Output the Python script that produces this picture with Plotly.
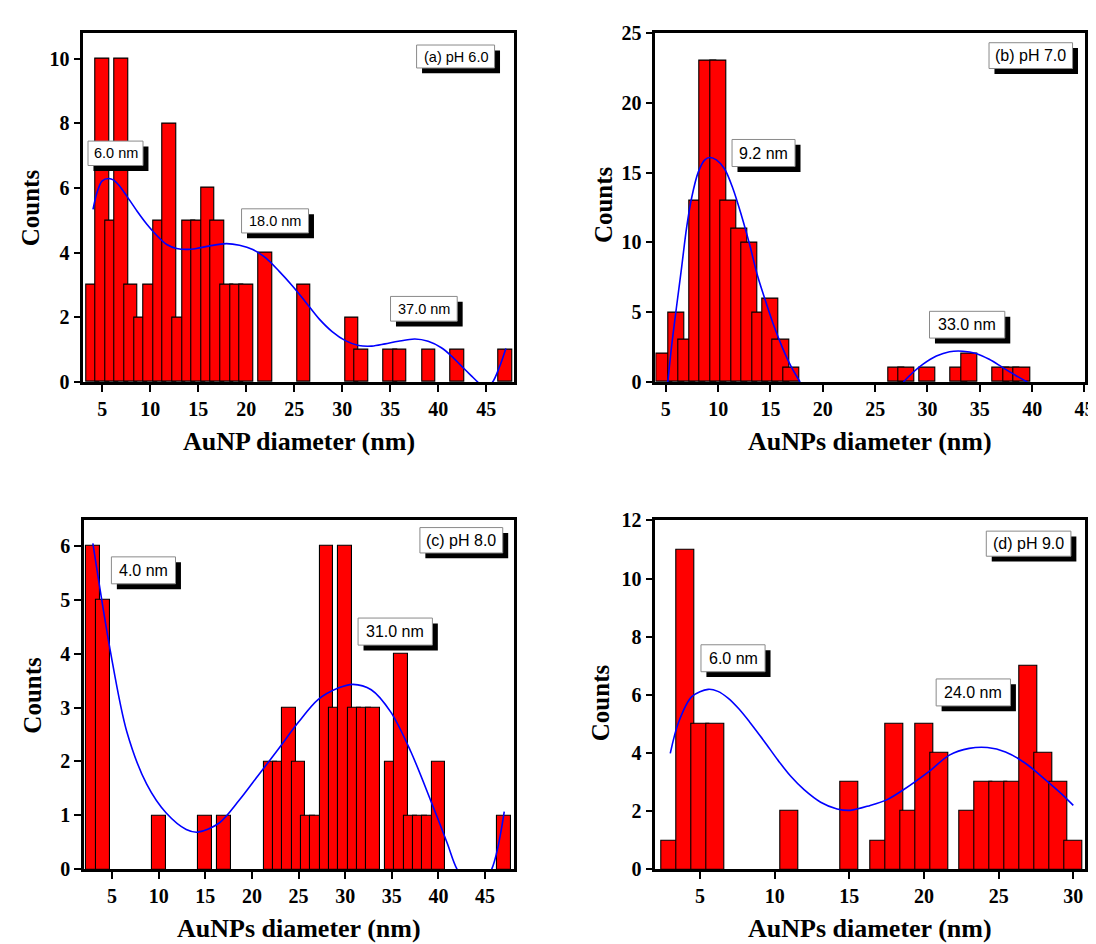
import plotly.graph_objects as go

W, H = 1096, 944

# ---------------- data ----------------
# (a) pH 6.0
a_x = [4, 5, 6, 7, 8, 9, 10, 11, 12, 13, 14, 15, 16, 17, 18, 19, 20, 22, 26, 31, 32, 35, 36, 39, 42, 47]
a_y = [3, 10, 5, 10, 3, 2, 3, 5, 8, 2, 5, 5, 6, 5, 3, 3, 3, 4, 3, 2, 1, 1, 1, 1, 1, 1]
a_fit_x = [4.04, 4.49, 5.0, 5.69, 6.2, 6.72, 7.58, 8.62, 9.65, 10.69, 11.72, 12.75, 13.79, 14.82,
           16.2, 17.92, 19.3, 20.68, 22.06, 23.44, 24.82, 26.2, 27.57, 28.95, 30.33, 31.71,
           33.09, 34.47, 35.85, 37.57, 38.95, 40.33, 41.36, 42.4, 43.43, 44.12, 44.9, 45.67,
           46.36, 47.05]
a_fit_y = [5.34, 5.89, 6.22, 6.29, 6.24, 6.09, 5.74, 5.29, 4.88, 4.53, 4.25, 4.13, 4.10, 4.13,
           4.21, 4.28, 4.23, 4.10, 3.83, 3.42, 2.97, 2.47, 1.96, 1.56, 1.28, 1.13,
           1.11, 1.18, 1.26, 1.33, 1.26, 1.06, 0.81, 0.50, 0.20, 0.0, -0.2, 0.0,
           0.45, 1.04]

# (b) pH 7.0
b_x = [4.85, 6, 7, 8, 9, 10, 11, 12, 13, 14, 15, 16, 17, 27, 28, 30, 33, 34, 37, 38, 39]
b_y = [2, 5, 3, 13, 23, 23, 13, 11, 10, 5, 6, 3, 1, 1, 1, 1, 1, 2, 1, 1, 1]
b_fit_x = [5.19, 5.57, 6.04, 6.52, 6.99, 7.46, 8.1, 8.73, 9.2, 9.83, 10.62, 11.41, 12.2, 12.99,
           13.78, 14.57, 15.36, 16.15, 16.94, 17.83, None,
           27.69, 28.63, 29.58, 30.85, 32.11, 33.37, 34.64, 35.9, 37.16, 38.43, 39.53]
b_fit_y = [0, 2.68, 5.48, 8.27, 11.07, 13.16, 15.03, 15.91, 16.08, 15.91, 15.26, 13.86, 12.0, 9.9,
           7.57, 5.71, 3.96, 2.45, 1.16, 0, None,
           0, 0.7, 1.28, 1.86, 2.17, 2.21, 2.05, 1.63, 1.05, 0.47, 0]

# (c) pH 8.0
c_x = [3, 4, 10, 15, 17, 22, 23, 24, 25, 26, 27, 28, 29, 30, 31, 32, 33, 35, 36, 37, 38, 39, 40, 47]
c_y = [6, 5, 1, 1, 1, 2, 2, 3, 2, 1, 1, 6, 3, 6, 3, 3, 3, 2, 4, 1, 1, 1, 2, 1]
c_fit_x = [2.95, 4.82, 6.59, 8.72, 10.84, 12.96, 14.2, 16.5, 18.63, 20.75, 22.88, 25.0, 27.12,
           29.25, 30.84, 32.79, 34.91, 37.04, 39.16, 40.93, 42.0, 43.9, 45.7, 47.05]
c_fit_y = [6.04, 4.05, 2.55, 1.58, 1.04, 0.74, 0.69, 0.86, 1.28, 1.76, 2.24, 2.73, 3.15,
           3.36, 3.43, 3.33, 2.91, 2.18, 1.28, 0.49, 0.0, -0.45, 0.0, 1.07]

# (d) pH 9.0
d_x = [3, 4, 5, 6, 11, 15, 17, 18, 19, 20, 21, 23, 24, 25, 26, 27, 28, 29, 30]
d_y = [1, 11, 5, 5, 2, 3, 1, 5, 2, 5, 4, 2, 3, 3, 3, 7, 4, 3, 1]
d_fit_x = [3.01, 3.56, 4.45, 5.55, 6.2, 6.9, 7.6, 8.32, 9.31, 10.2, 11.08, 11.97, 13.08, 14.18,
           15.07, 16.4, 17.5, 18.6, 20.37, 21.7, 23.03, 24.25, 25.46, 26.79, 28.12, 29.23, 30.0]
d_fit_y = [3.99, 5.05, 5.94, 6.19, 6.12, 5.88, 5.52, 5.07, 4.4, 3.77, 3.2, 2.74, 2.31, 2.08,
           2.03, 2.2, 2.39, 2.73, 3.38, 3.93, 4.16, 4.19, 4.04, 3.65, 3.09, 2.59, 2.2]

panel_labels = ["(a) pH 6.0", "(b) pH 7.0", "(c) pH 8.0", "(d) pH 9.0"]
x_titles = ["AuNP diameter (nm)", "AuNPs diameter (nm)", "AuNPs diameter (nm)", "AuNPs diameter (nm)"]
y_title = "Counts"

# ---------------- layout helpers ----------------
def px2x(px):
    return px / W

def px2y(py):
    return 1 - py / H

panels = [
    dict(xs=a_x, ys=a_y, fx=a_fit_x, fy=a_fit_y, width=1.4,
         dom_x=(76, 510.7), dom_y=(14, 371.7), xr=[3.03, 47.9], yr=[0, 10.8],
         xt=[5, 10, 15, 20, 25, 30, 35, 40, 45], yt=[0, 2, 4, 6, 8, 10]),
    dict(xs=b_x, ys=b_y, fx=b_fit_x, fy=b_fit_y, width=1.56,
         dom_x=(653.3, 1086.7), dom_y=(14, 371.7), xr=[4, 45.03], yr=[0, 25.02],
         xt=[5, 10, 15, 20, 25, 30, 35, 40, 45], yt=[0, 5, 10, 15, 20, 25]),
    dict(xs=c_x, ys=c_y, fx=c_fit_x, fy=c_fit_y, width=1.48,
         dom_x=(76.7, 510.7), dom_y=(512.7, 870.7), xr=[2, 48.1], yr=[0, 6.48],
         xt=[5, 10, 15, 20, 25, 30, 35, 40, 45], yt=[0, 1, 2, 3, 4, 5, 6]),
    dict(xs=d_x, ys=d_y, fx=d_fit_x, fy=d_fit_y, width=1.2,
         dom_x=(653.3, 1086.7), dom_y=(512.7, 870.7), xr=[2.01, 30.77], yr=[0, 12.02],
         xt=[5, 10, 15, 20, 25, 30], yt=[0, 2, 4, 6, 8, 10, 12]),
]

tick_font = dict(family="Liberation Serif", size=20, color="black", weight="bold")
title_font = dict(family="Liberation Serif", size=26, color="black", weight="bold")
box_font_family = "Liberation Sans"

fig = go.Figure()
layout = dict(width=W, height=H, margin=dict(l=0, r=0, t=0, b=0),
              paper_bgcolor="white", plot_bgcolor="white", showlegend=False,
              bargap=0)

for i, p in enumerate(panels):
    n = "" if i == 0 else str(i + 1)
    xa, ya = "x" + n, "y" + n
    fig.add_trace(go.Bar(x=p["xs"], y=p["ys"], width=p["width"], xaxis=xa, yaxis=ya,
                         marker=dict(color="#FF0000", line=dict(color="black", width=1.1))))
    fig.add_trace(go.Scatter(x=p["fx"], y=p["fy"], mode="lines", xaxis=xa, yaxis=ya,
                             line=dict(color="#0000FF", width=1.6, shape="spline", smoothing=0.9),
                             connectgaps=False))
    axis_common = dict(showgrid=False, zeroline=False, showline=True, linecolor="black",
                       linewidth=2.5, mirror=True, ticks="outside", ticklen=7, tickwidth=2,
                       tickcolor="black", tickfont=tick_font, ticklabeloverflow="allow")
    layout["xaxis" + n] = dict(axis_common, domain=[px2x(p["dom_x"][0]), px2x(p["dom_x"][1])],
                               range=p["xr"], tickvals=p["xt"], anchor=ya)
    layout["yaxis" + n] = dict(axis_common, domain=[px2y(p["dom_y"][1]), px2y(p["dom_y"][0])],
                               range=p["yr"], tickvals=p["yt"], anchor=xa)

fig.update_layout(**layout)

# ---------------- annotation boxes ----------------
# (cx, cy, w, h, text, fontsize) in pixels
boxes = [
    (451.7, 38.4, 78.7, 23.5, panel_labels[0], 14.5),
    (108.5, 137.5, 55.5, 25, "6.0 nm", 14.5),
    (269.5, 206.7, 67.6, 24.7, "18.0 nm", 14.5),
    (419.7, 296.7, 67.3, 25.3, "37.0 nm", 14.5),
    (1032.2, 37.5, 84.3, 26.4, panel_labels[1], 16),
    (762.5, 137.2, 63.6, 27.7, "9.2 nm", 16),
    (968, 313, 76, 27.4, "33.0 nm", 16),
    (457.5, 533.7, 83.6, 26, panel_labels[2], 16),
    (136.7, 564.5, 64.7, 27.6, "4.0 nm", 16),
    (390.8, 627.2, 75, 27.7, "31.0 nm", 16),
    (1030, 537.2, 85.4, 25.7, panel_labels[3], 16),
    (731.7, 654.5, 64.7, 27.6, "6.0 nm", 16),
    (974.2, 689.5, 75, 27.6, "24.0 nm", 16),
]
shapes = []
annotations = []
sh = 5.5
for cx, cy, w, h, txt, fs in boxes:
    x0, x1 = cx - w / 2, cx + w / 2
    y0, y1 = cy - h / 2, cy + h / 2
    shapes.append(dict(type="rect", xref="paper", yref="paper", layer="above",
                       x0=px2x(x0 + sh), x1=px2x(x1 + sh), y0=px2y(y1 + sh), y1=px2y(y0 + sh),
                       fillcolor="black", line=dict(width=0)))
    shapes.append(dict(type="rect", xref="paper", yref="paper", layer="above",
                       x0=px2x(x0), x1=px2x(x1), y0=px2y(y1), y1=px2y(y0),
                       fillcolor="white", line=dict(color="#8a8a8a", width=1)))
    annotations.append(dict(x=px2x(cx), y=px2y(cy), xref="paper", yref="paper", text=txt,
                            showarrow=False, xanchor="center", yanchor="middle",
                            font=dict(family=box_font_family, size=fs, color="black")))

# axis titles
xt_pos = [(293.4, 433), (870, 433), (293.7, 931), (870, 931)]
yt_pos = [(23, 193), (601, 190), (25, 692), (598, 700)]
for i in range(4):
    annotations.append(dict(x=px2x(xt_pos[i][0]), y=px2y(xt_pos[i][1]), xref="paper", yref="paper",
                            text=x_titles[i], showarrow=False, xanchor="center", yanchor="middle",
                            font=title_font))
    annotations.append(dict(x=px2x(yt_pos[i][0]), y=px2y(yt_pos[i][1]), xref="paper", yref="paper",
                            text=y_title, showarrow=False, xanchor="center", yanchor="middle",
                            textangle=-90, font=dict(title_font, size=25)))

fig.update_layout(shapes=shapes, annotations=annotations)
fig.write_html("out.html")
